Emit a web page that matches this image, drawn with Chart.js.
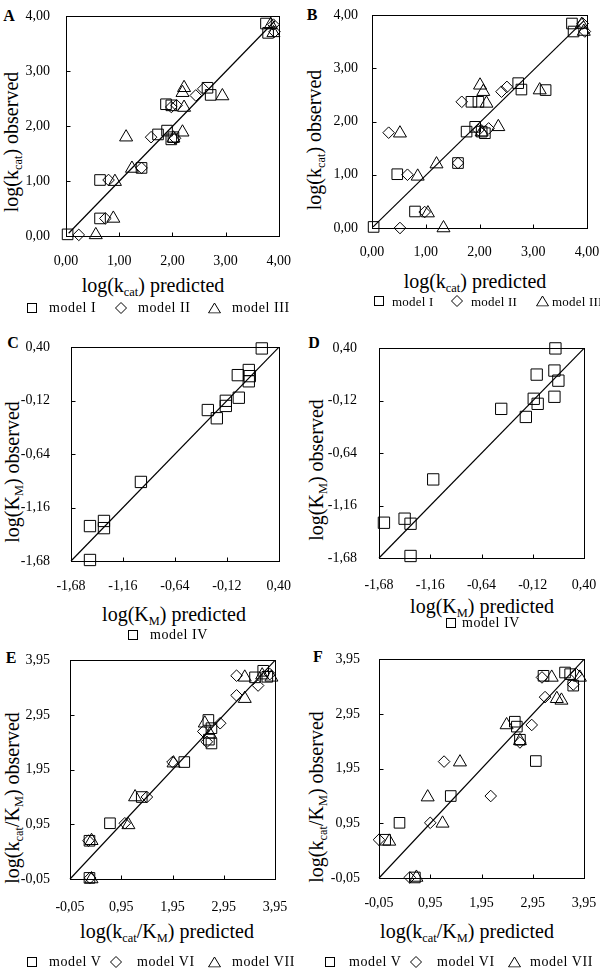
<!DOCTYPE html>
<html>
<head>
<meta charset="utf-8">
<script src="https://cdn.jsdelivr.net/npm/chart.js@4.4.0/dist/chart.umd.min.js"></script>
<style>
html, body { margin: 0; padding: 0; background: #fff; }
#page { position: relative; width: 600px; height: 978px; overflow: hidden;
        font-family: "Liberation Serif", "Times New Roman", serif; color: #000; }
canvas { position: absolute; }
.t { position: absolute; white-space: nowrap; font-size: 20px; line-height: 1;
     transform: translate(-50%, -50%); }
.t.v { transform: translate(-50%, -50%) rotate(-90deg); }
.sub { font-size: 0.62em; position: relative; top: 0.32em; }
.letter { position: absolute; font-weight: bold; font-size: 16px; line-height: 1;
          transform: translate(-50%, -50%); }
.lg { position: absolute; font-size: 14px; letter-spacing: 0.6px; line-height: 1;
      white-space: nowrap; transform: translateY(-50%); }
.lg.tight { font-size: 13px; letter-spacing: 0.2px; }
.lg svg { position: absolute; top: 50%; transform: translateY(-50%); }
</style>
</head>
<body>
<div id="page">
  <!-- panel letters -->
  <div class="letter" style="left:9px;top:16px">A</div>
  <div class="letter" style="left:312px;top:15px">B</div>
  <div class="letter" style="left:13px;top:343px">C</div>
  <div class="letter" style="left:314px;top:343px">D</div>
  <div class="letter" style="left:11px;top:658px">E</div>
  <div class="letter" style="left:318px;top:657px">F</div>

  <!-- axis titles -->
  <div class="t v" style="left:11px;top:142px">log(k<span class="sub">cat</span>) observed</div>
  <div class="t" style="left:153px;top:285px">log(k<span class="sub">cat</span>) predicted</div>
  <div class="t v" style="left:314px;top:140px">log(k<span class="sub">cat</span>) observed</div>
  <div class="t" style="left:475px;top:281px">log(k<span class="sub">cat</span>) predicted</div>

  <div class="t v" style="left:12px;top:472px">log(K<span class="sub">M</span>) observed</div>
  <div class="t" style="left:174px;top:614px">log(K<span class="sub">M</span>) predicted</div>
  <div class="t v" style="left:316px;top:470px">log(K<span class="sub">M</span>) observed</div>
  <div class="t" style="left:482px;top:606px">log(K<span class="sub">M</span>) predicted</div>

  <div class="t v" style="left:12px;top:798px">log(k<span class="sub">cat</span>/K<span class="sub">M</span>) observed</div>
  <div class="t" style="left:167px;top:931px">log(k<span class="sub">cat</span>/K<span class="sub">M</span>) predicted</div>
  <div class="t v" style="left:316px;top:797px">log(k<span class="sub">cat</span>/K<span class="sub">M</span>) observed</div>
  <div class="t" style="left:467px;top:931px">log(k<span class="sub">cat</span>/K<span class="sub">M</span>) predicted</div>
</div>

<script>
// ---- data: each point is [predicted, observed] ----

// A: log(kcat), first model set
const A_modelI = [[0.03,0.03],[0.64,1.02],[0.64,0.32],[1.42,1.24],[1.73,1.85],[1.90,1.92],[1.98,1.76],
  [2.02,1.80],[1.88,2.40],[1.98,2.38],[2.66,2.70],[2.72,2.57],[3.76,3.87],[3.80,3.70]];
const A_modelII = [[0.24,0.02],[0.74,0.32],[0.80,1.02],[1.42,1.24],[1.60,1.80],[2.05,1.78],[1.98,2.35],
  [2.08,2.38],[2.44,2.56],[2.58,2.68],[3.90,3.85],[3.92,3.72]];
const A_modelIII = [[0.56,0.02],[0.89,0.32],[0.92,0.99],[1.13,1.80],[1.24,1.23],[2.02,1.78],[2.19,1.89],
  [2.22,2.34],[2.19,2.61],[2.22,2.70],[2.94,2.55],[3.85,3.85],[3.90,3.70]];
const A_line = [[0.05,0.05],[3.93,3.92]];

// B: log(kcat), second model set
const B_modelI = [[0.03,0.02],[0.47,1.01],[0.80,0.31],[1.60,1.22],[1.76,1.81],[1.92,1.90],[2.04,1.81],
  [2.10,1.78],[1.85,2.37],[1.98,2.37],[2.72,2.72],[2.78,2.60],[3.23,2.59],[3.72,3.84],[3.75,3.69]];
const B_modelII = [[0.52,0.00],[0.31,1.79],[0.66,1.00],[0.98,0.30],[1.60,1.22],[1.67,2.37],[1.98,1.84],
  [2.17,1.87],[2.41,2.56],[2.51,2.65],[3.92,3.84],[3.96,3.69]];
const B_modelIII = [[0.52,1.78],[0.85,0.97],[1.04,0.28],[1.33,0.00],[1.20,1.20],[2.01,2.68],[2.07,2.56],
  [2.13,2.34],[2.04,1.80],[2.35,1.90],[3.12,2.59],[3.90,3.82],[3.94,3.69]];
const B_line = [[0.02,0.02],[3.94,3.89]];

// C, D: log(KM)
const C_modelIV = [[0.23,0.39],[0.10,0.18],[0.11,0.12],[0.10,0.07],[-0.01,0.13],[0.00,-0.09],[-0.13,-0.12],
  [-0.13,-0.17],[-0.31,-0.21],[-0.22,-0.29],[-0.98,-0.91],[-1.35,-1.29],[-1.35,-1.36],[-1.49,-1.34],[-1.49,-1.67]];
const C_line = [[-1.68,-1.68],[0.40,0.40]];
const D_modelIV = [[0.11,0.40],[0.10,0.18],[0.14,0.08],[-0.08,0.14],[0.10,-0.08],[-0.11,-0.10],[-0.07,-0.15],
  [-0.44,-0.20],[-0.19,-0.28],[-1.13,-0.90],[-1.42,-1.29],[-1.36,-1.34],[-1.63,-1.33],[-1.36,-1.66]];
const D_line = [[-1.68,-1.68],[0.40,0.40]];

// E, F: log(kcat/KM)
const E_modelV = [[0.33,-0.03],[0.33,0.65],[0.73,0.97],[1.35,1.45],[2.18,2.09],[2.65,2.86],[2.71,2.71],
  [2.71,2.43],[2.66,2.50],[3.56,3.64],[3.72,3.76],[3.80,3.65]];
const E_modelVI = [[0.31,0.65],[0.34,-0.03],[1.02,0.97],[1.45,1.45],[1.95,2.09],[2.55,2.65],[2.62,2.46],
  [2.88,2.80],[3.20,3.31],[3.20,3.67],[3.62,3.49],[3.85,3.70]];
const E_modelVII = [[0.37,0.65],[0.37,-0.05],[1.09,0.94],[1.22,1.45],[1.97,2.07],[2.58,2.80],[2.68,2.60],
  [3.36,3.25],[3.36,3.64],[3.70,3.68],[3.88,3.64]];
const E_line = [[-0.05,-0.05],[3.95,3.95]];

const F_modelV = [[0.07,0.65],[0.35,0.96],[0.65,-0.04],[1.35,1.45],[3.01,2.09],[2.60,2.81],[2.64,2.72],
  [2.70,2.48],[3.16,3.65],[3.58,3.71],[3.68,3.68],[3.74,3.47]];
const F_modelVI = [[-0.05,0.65],[0.55,-0.04],[0.95,0.96],[1.22,2.08],[2.13,1.45],[2.93,2.75],[2.70,2.43],
  [3.19,3.26],[3.13,3.62],[3.74,3.49],[3.80,3.68]];
const F_modelVII = [[0.15,0.62],[0.68,-0.04],[0.90,1.43],[1.19,0.95],[1.53,2.07],[2.44,2.75],[2.70,2.46],
  [3.32,3.62],[3.42,3.23],[3.51,3.20],[3.87,3.62]];
const F_line = [[-0.05,-0.05],[3.95,3.95]];

// tick labels
const TICKS_KCAT = [0, 1, 2, 3, 4];
const TICKS_KM = [-1.68, -1.16, -0.64, -0.12, 0.40];
const TICKS_KCATKM = [-0.05, 0.95, 1.95, 2.95, 3.95];

// legend names
const NAMES_KCAT = ['model I', 'model II', 'model III'];
const NAMES_KM = ['model IV'];
const NAMES_KCATKM = ['model V', 'model VI', 'model VII'];

// marker sizes per style
const RADIUS = { rect: 7.5, rectRot: 5.8, triangle: 7.5 };

// Panel layout: canvas box [x, y, w, h], plot area [left, top, right, bottom]
// yPad / xPad: tick label padding (Chart.js adds its 8px tick length on top)
const panels = [
  { box: [-30, 0, 330, 326], area: [66, 15, 280, 236], ticks: TICKS_KCAT, line: A_line,
    series: [A_modelI, A_modelII, A_modelIII], names: NAMES_KCAT, yPad: 8, xPad: 9,
    legend: { y: 308, items: [[27, 49], [115, 138], [208, 232]] } },
  { box: [300, 0, 330, 326], area: [372, 15, 587, 228], ticks: TICKS_KCAT, line: B_line,
    series: [B_modelI, B_modelII, B_modelIII], names: NAMES_KCAT, yPad: 6, xPad: 8,
    legend: { y: 301, tight: true, items: [[374, 392], [451, 471], [536, 552]] } },
  { box: [-30, 326, 330, 314], area: [71, 343, 279, 561], ticks: TICKS_KM, line: C_line,
    series: [C_modelIV], names: NAMES_KM, yPad: 13, xPad: 9, big: true,
    legend: { y: 635, items: [[128, 150]] } },
  { box: [300, 326, 330, 314], area: [379, 342, 584, 558], ticks: TICKS_KM, line: D_line,
    series: [D_modelIV], names: NAMES_KM, yPad: 14, xPad: 11, big: true,
    legend: { y: 623, items: [[446, 462]] } },
  { box: [-30, 640, 330, 338], area: [70, 658, 275, 879], ticks: TICKS_KCATKM, line: E_line,
    series: [E_modelV, E_modelVI, E_modelVII], names: NAMES_KCATKM, yPad: 12, xPad: 12,
    legend: { y: 962, items: [[27, 49], [110, 137], [208, 232]] } },
  { box: [300, 640, 330, 338], area: [379, 655, 584, 878], ticks: TICKS_KCATKM, line: F_line,
    series: [F_modelV, F_modelVI, F_modelVII], names: NAMES_KCATKM, yPad: 11, xPad: 9,
    legend: { y: 962, items: [[325, 349], [410, 437], [508, 530]] } }
];

const STYLES = ['rect', 'rectRot', 'triangle'];
const page = document.getElementById('page');
const fmt = v => v.toFixed(2).replace('.', ',');

// frame round the plot area, with short inward tick marks
const framePlugin = {
  id: 'frame',
  afterDatasetsDraw(chart) {
    const { ctx, chartArea: a, scales } = chart;
    const l = Math.round(a.left) + 0.5, t = Math.round(a.top) + 0.5;
    const r = Math.round(a.right) + 0.5, b = Math.round(a.bottom) + 0.5;
    ctx.save();
    ctx.strokeStyle = '#000';
    ctx.lineWidth = 1;
    ctx.strokeRect(l, t, r - l, b - t);
    ctx.beginPath();
    scales.x.ticks.forEach(tk => {
      const px = Math.round(scales.x.getPixelForValue(tk.value)) + 0.5;
      if (px > l + 1 && px < r - 1) { ctx.moveTo(px, b); ctx.lineTo(px, b - 4); }
    });
    scales.y.ticks.forEach(tk => {
      const py = Math.round(scales.y.getPixelForValue(tk.value)) + 0.5;
      if (py > t + 1 && py < b - 1) { ctx.moveTo(l, py); ctx.lineTo(l + 4, py); }
    });
    ctx.stroke();
    ctx.restore();
  }
};

function symbolSvg(style) {
  if (style === 'rect')
    return '<svg width="10" height="10"><rect x="0.5" y="0.5" width="9" height="9" fill="none" stroke="#000"/></svg>';
  if (style === 'rectRot')
    return '<svg width="12" height="12"><path d="M6 0.5 L11.5 6 L6 11.5 L0.5 6 Z" fill="none" stroke="#000"/></svg>';
  return '<svg width="13" height="11"><path d="M6.5 0.5 L12.5 10.5 L0.5 10.5 Z" fill="none" stroke="#000"/></svg>';
}

function buildLegend(p) {
  const cls = p.legend.tight ? 'lg tight' : 'lg';
  p.legend.items.forEach(([sx, tx], i) => {
    const style = STYLES[i];
    const s = document.createElement('div');
    s.className = 'lg';
    s.style.left = sx + 'px';
    s.style.top = p.legend.y + 'px';
    s.style.width = '14px';
    s.style.height = '14px';
    s.innerHTML = symbolSvg(style);
    page.appendChild(s);
    const t = document.createElement('div');
    t.className = cls;
    t.style.left = tx + 'px';
    t.style.top = p.legend.y + 'px';
    t.textContent = p.names[i];
    page.appendChild(t);
  });
}

function buildPanel(p) {
  const [bx, by, bw, bh] = p.box;
  const [L, T, R, B] = p.area;
  const xAxisH = 40;
  const cv = document.createElement('canvas');
  cv.width = bw; cv.height = bh;
  cv.style.left = bx + 'px'; cv.style.top = by + 'px';
  cv.style.width = bw + 'px'; cv.style.height = bh + 'px';
  page.appendChild(cv);

  const lo = p.ticks[0], hi = p.ticks[p.ticks.length - 1];
  const tickFont = { family: '"Liberation Serif", "Times New Roman", serif', size: 14 };

  const datasets = p.series.map((pts, i) => {
    const style = STYLES[i];
    const r = p.big ? 8 : RADIUS[style];
    return {
      label: p.names[i],
      data: pts.map(([x, y]) => ({ x, y })),
      pointStyle: style,
      pointRadius: r,
      pointHoverRadius: r,
      pointBorderWidth: 1,
      borderColor: '#000',
      backgroundColor: 'rgba(0,0,0,0)',
      clip: false
    };
  });
  datasets.push({
    label: 'fit',
    data: p.line.map(([x, y]) => ({ x, y })),
    showLine: true,
    borderColor: '#000',
    borderWidth: 1.2,
    pointRadius: 0,
    clip: false
  });

  const axis = (pad, isX) => ({
    type: 'linear',
    min: lo,
    max: hi,
    grid: { display: false },
    border: { display: false },
    ticks: {
      color: '#000',
      font: tickFont,
      padding: pad,
      autoSkip: false,
      maxRotation: 0,
      callback: v => fmt(v)
    },
    afterBuildTicks: s => { s.ticks = p.ticks.map(v => ({ value: v })); },
    afterFit: s => {
      if (isX) s.height = xAxisH;
      else s.width = L - bx;
    }
  });

  new Chart(cv, {
    type: 'scatter',
    data: { datasets },
    options: {
      responsive: false,
      animation: false,
      devicePixelRatio: 1,
      layout: {
        padding: { left: 0, top: T - by, right: bx + bw - R, bottom: by + bh - B - xAxisH }
      },
      plugins: { legend: { display: false }, tooltip: { enabled: false } },
      scales: { x: axis(p.xPad, true), y: axis(p.yPad, false) }
    },
    plugins: [framePlugin]
  });

  buildLegend(p);
}

panels.forEach(buildPanel);
</script>
</body>
</html>
